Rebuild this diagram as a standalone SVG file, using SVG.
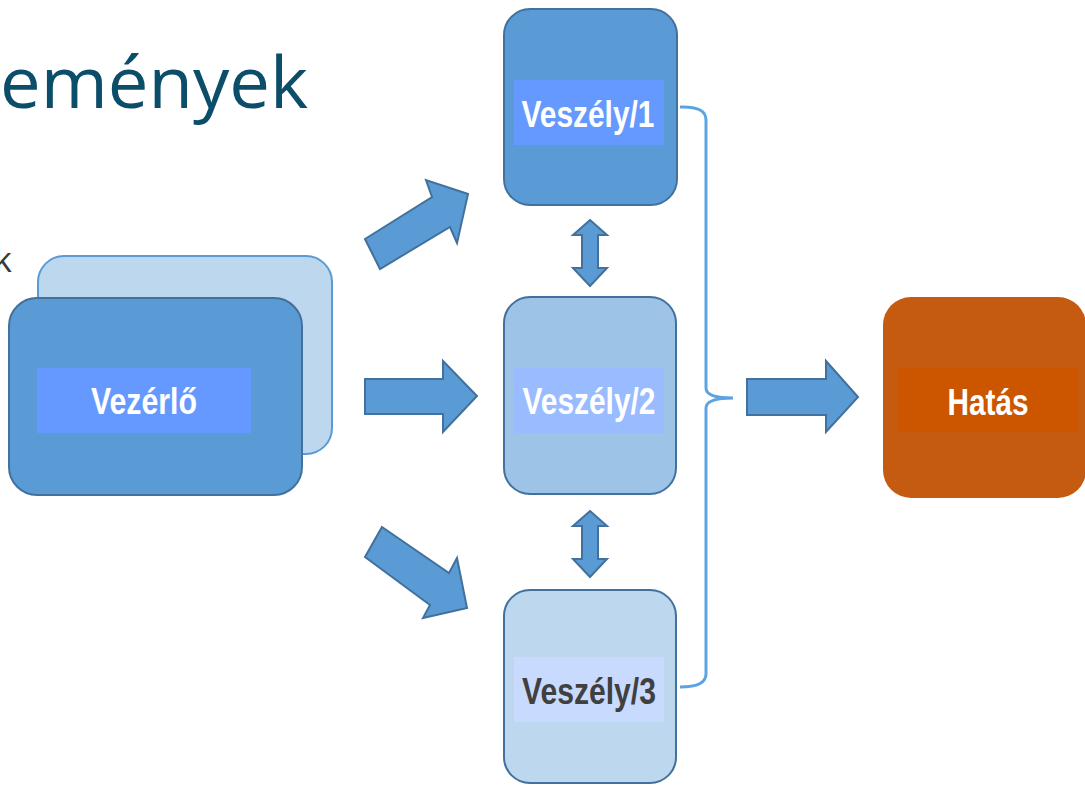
<svg xmlns="http://www.w3.org/2000/svg" width="1085" height="786" viewBox="0 0 1085 786">
  <style>
    .title { font-family: "Open Sans", "Liberation Sans", sans-serif; font-size: 71px; fill: #0C4E69; }
    .bullet { font-family: "Open Sans", "Liberation Sans", sans-serif; font-size: 34px; fill: #3A3A3A; }
    .label { font-family: "Liberation Sans", Arial, sans-serif; font-size: 37px; font-weight: bold; text-anchor: middle; }
    .dark { fill: #5B9BD5; stroke: #41719C; stroke-width: 2; }
    .mid { fill: #9DC3E6; stroke: #41719C; stroke-width: 2; }
    .light { fill: #BDD7EE; stroke: #41719C; stroke-width: 2; }
    .arrow { fill: #5B9BD5; stroke: #41719C; stroke-width: 2; stroke-linejoin: miter; }
    .brace { fill: none; stroke: #5BA3E3; stroke-width: 3; }
  </style>

  <!-- heading fragment and bullet fragment -->
  <text class="title" x="0" y="108" textLength="308" lengthAdjust="spacingAndGlyphs">emények</text>
  <text class="bullet" x="-6" y="272">k</text>

  <!-- controller: stacked cards -->
  <g id="vezerlo">
    <rect x="38" y="256" width="294" height="198" rx="26" fill="#BDD7EE" stroke="#5B9BD5" stroke-width="2"/>
    <rect class="dark" x="9" y="298" width="293" height="197" rx="28"/>
    <rect x="37" y="368" width="214" height="65" fill="#6699FF"/>
    <text class="label" x="144" y="414" fill="#FFFFFF" textLength="106" lengthAdjust="spacingAndGlyphs">Vezérlő</text>
  </g>

  <!-- hazards -->
  <g id="veszely1">
    <rect class="dark" x="504" y="9" width="173" height="196" rx="26"/>
    <rect x="514" y="80" width="150" height="65" fill="#6699FF"/>
    <text class="label" x="588" y="127" fill="#FFFFFF" textLength="133" lengthAdjust="spacingAndGlyphs">Veszély/1</text>
  </g>
  <g id="veszely2">
    <rect class="mid" x="504" y="297" width="172" height="197" rx="26"/>
    <rect x="514" y="368" width="150" height="65" fill="#99BBFF"/>
    <text class="label" x="589" y="414" fill="#FFFFFF" textLength="133" lengthAdjust="spacingAndGlyphs">Veszély/2</text>
  </g>
  <g id="veszely3">
    <rect class="light" x="504" y="590" width="172" height="193" rx="26"/>
    <rect x="514" y="657" width="150" height="65" fill="#C9DAFF"/>
    <text class="label" x="589" y="704" fill="#404040" textLength="134" lengthAdjust="spacingAndGlyphs">Veszély/3</text>
  </g>

  <!-- impact -->
  <g id="hatas">
    <rect x="883" y="297" width="203" height="201" rx="28" fill="#C55A11"/>
    <rect x="898" y="368" width="180" height="64" fill="#CC5500"/>
    <text class="label" x="988" y="415" fill="#FFFFFF" textLength="81" lengthAdjust="spacingAndGlyphs">Hatás</text>
  </g>

  <!-- connectors -->
  <g id="connectors">
    <!-- controller to hazards -->
    <polygon class="arrow" points="365,239 432,197 426,180 468,194 457,243 450,227 380,269"/>
    <polygon class="arrow" points="365,379 443,379 443,361 477,396 443,432 443,414 365,414"/>
    <polygon class="arrow" points="382,527 449,573 457,558 467,608 423,618 430,605 365,557"/>
    <!-- links between hazards -->
    <polygon class="arrow" points="590,220 607,235 598,235 598,268 607,268 590,286 573,268 582,268 582,235 573,235"/>
    <polygon class="arrow" points="590,511 607,526 598,526 598,559 607,559 590,577 573,559 582,559 582,526 573,526"/>
    <!-- grouping brace -->
    <path class="brace" d="M680,107 Q706,106 706,120 L706,388 Q706,398 733,398 Q706,398 706,408 L706,674 Q706,687 680,687"/>
    <!-- hazards to impact -->
    <polygon class="arrow" points="747,379 826,379 826,361 858,397 826,432 826,415 747,415"/>
  </g>
</svg>
